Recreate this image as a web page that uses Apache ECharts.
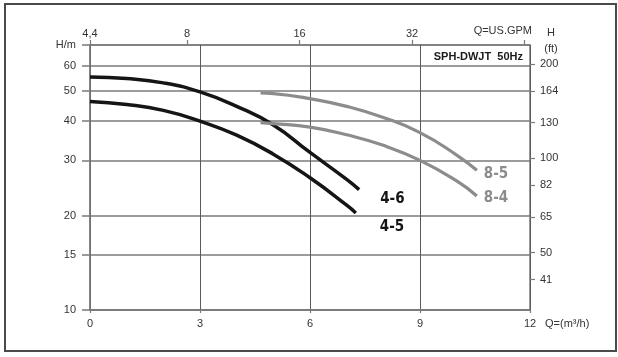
<!DOCTYPE html>
<html><head><meta charset="utf-8">
<script src="https://cdn.jsdelivr.net/npm/echarts@6/dist/echarts.min.js"></script>
<style>html,body{margin:0;padding:0;background:#fff}#c{width:618px;height:357px}</style>
</head><body><div id="c"></div>
<script>
// ---- data ----
const qTicks = [0, 3, 6, 9, 12];                 // m3/h
const gpmTicks = [4.4, 8, 16, 32, 64];           // US GPM (top)
const hTicks = [10, 15, 20, 30, 40, 50, 60, 70]; // metres (70 = H/m label)
const ftTicks = [41, 50, 65, 82, 100, 130, 164, 200];
const q46 = [0, 1, 2, 3, 4, 5, 6, 7, 7.34];
const h46 = [55.3, 54.7, 53.0, 49.6, 44.6, 38.9, 31.8, 26.1, 24.2];
const q45 = [0, 1, 2, 3, 4, 5, 6, 7, 7.25];
const h45 = [46.2, 45.2, 43.3, 40.0, 36.1, 31.4, 26.4, 21.6, 20.4];
const q85 = [4.65, 5, 6, 7, 8, 9, 10, 10.55];
const h85 = [49.2, 49.0, 47.2, 44.6, 41.1, 36.8, 31.2, 27.9];
const q84 = [4.65, 5, 6, 7, 8, 9, 10, 10.55];
const h84 = [39.6, 39.3, 38.3, 36.2, 33.5, 30.0, 25.8, 23.1];
const names = ['4-6', '4-5', '8-5', '8-4'];

const M2FT = 3.28084;
const font = '"Liberation Sans", Arial, sans-serif';
const narrow = '"Liberation Sans Narrow", "DejaVu Sans Condensed", sans-serif';
const gridCol = '#7a7a7a';
const txt = '#333';

const chart = echarts.init(document.getElementById('c'), null, {renderer: 'canvas'});
const pairs = (q, h) => q.map((v, i) => [v, h[i]]);

function mkSeries(name, q, h, color, width, off) {
  return {
    type: 'line', name: name, xAxisIndex: 0, yAxisIndex: 0,
    data: pairs(q, h), smooth: 0.5, showSymbol: false, symbol: 'none',
    lineStyle: {color: color, width: width, cap: 'butt'},
    itemStyle: {color: color},
    emphasis: {disabled: true},
    endLabel: {
      show: true, formatter: '{a}', offset: off, distance: 5,
      color: color, fontFamily: narrow, fontWeight: 'bold', fontSize: 15
    },
    z: 5
  };
}

chart.setOption({
  animation: false,
  backgroundColor: '#fff',
  grid: {left: 90, right: 88, top: 45, bottom: 47, show: true,
         borderColor: gridCol, borderWidth: 1.5, backgroundColor: 'transparent'},
  xAxis: [
    {
      type: 'value', position: 'bottom', min: 0, max: 12, interval: 3,
      axisLine: {show: true, lineStyle: {color: gridCol, width: 1.5}},
      axisTick: {show: true, length: 3, lineStyle: {color: gridCol, width: 1.2}},
      axisLabel: {color: txt, fontFamily: font, fontSize: 11, margin: 8},
      splitLine: {show: true, lineStyle: {color: '#5a5a5a', width: 1}}
    },
    {
      type: 'log', logBase: 2, position: 'top', min: 4.4, max: 66.2,
      axisLine: {show: false},
      axisTick: {show: true, length: 5, customValues: gpmTicks, lineStyle: {color: gridCol, width: 1.2}},
      axisLabel: {color: txt, fontFamily: font, fontSize: 11, margin: 6,
        customValues: gpmTicks,
        formatter: v => (Math.abs(v - 4.4) < 0.01 ? '4,4' : (v > 60 ? '' : String(Math.round(v))))},
      splitLine: {show: false}
    }
  ],
  yAxis: [
    {
      type: 'log', logBase: 10, min: 10, max: 70, position: 'left',
      axisLine: {show: true, lineStyle: {color: gridCol, width: 1.5}},
      axisTick: {show: true, length: 8, customValues: hTicks, lineStyle: {color: gridCol, width: 1.5}},
      axisLabel: {color: txt, fontFamily: font, fontSize: 11, margin: 14, customValues: hTicks,
        formatter: v => (Math.abs(v - 70) < 0.5 ? 'H/m' : String(Math.round(v)))},
      splitLine: {show: true, lineStyle: {color: gridCol, width: 1.5}}
    },
    {
      type: 'log', logBase: 10, min: 10 * M2FT, max: 70 * M2FT, position: 'right',
      axisLine: {show: false},
      axisTick: {show: true, length: 5, customValues: ftTicks, lineStyle: {color: gridCol, width: 1.2}},
      axisLabel: {color: txt, fontFamily: font, fontSize: 11, margin: 10, customValues: ftTicks,
        formatter: v => String(Math.round(v))},
      splitLine: {show: false}
    }
  ],
  series: [
    mkSeries(names[0], q46, h46, '#151515', 3.5, [16, 9]),
    mkSeries(names[1], q45, h45, '#151515', 3.5, [19, 14]),
    mkSeries(names[2], q85, h85, '#8c8c8c', 3.2, [2, 4]),
    mkSeries(names[3], q84, h84, '#8c8c8c', 3.2, [2, 2])
  ],
  graphic: [
    {type: 'rect', shape: {x: 5, y: 4, width: 611, height: 347}, silent: true,
     style: {fill: 'none', stroke: '#4a4a4a', lineWidth: 2}, z: 100},
    {type: 'text', x: 532, y: 31, silent: true,
     style: {text: 'Q=US.GPM', fill: txt, font: '11px ' + font, align: 'right', verticalAlign: 'middle'}},
    {type: 'text', x: 551, y: 33, silent: true,
     style: {text: 'H', fill: txt, font: '11px ' + font, align: 'center', verticalAlign: 'middle'}},
    {type: 'text', x: 551, y: 49, silent: true,
     style: {text: '(ft)', fill: txt, font: '11px ' + font, align: 'center', verticalAlign: 'middle'}},
    {type: 'text', x: 545, y: 324, silent: true,
     style: {text: 'Q=(m³/h)', fill: txt, font: '11px ' + font, align: 'left', verticalAlign: 'middle'}},
    {type: 'text', x: 523, y: 57, silent: true,
     style: {text: 'SPH-DWJT  50Hz', fill: '#1a1a1a', font: 'bold 11px ' + font, align: 'right', verticalAlign: 'middle'}}
  ]
});
</script></body></html>
